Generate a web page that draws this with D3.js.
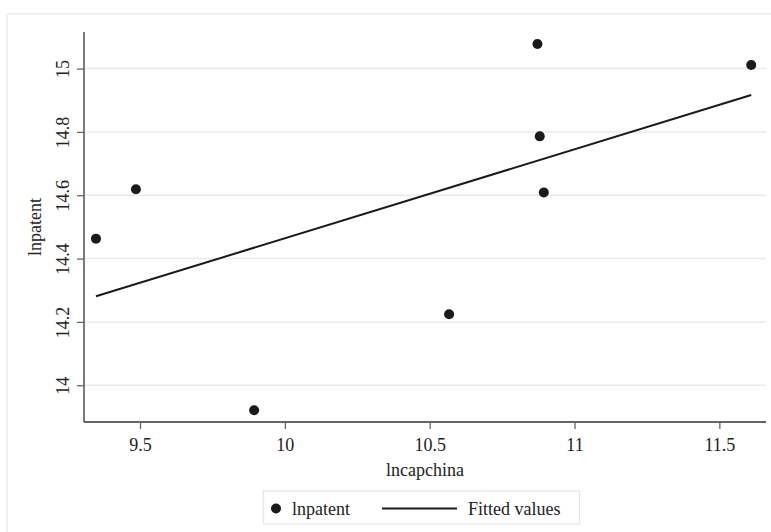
<!DOCTYPE html>
<html>
<head>
<meta charset="utf-8">
<script src="https://cdn.jsdelivr.net/npm/d3@7"></script>
<style>
  html, body { margin: 0; padding: 0; background: #fff; }
  svg { display: block; }
  svg text { font-family: "Liberation Serif", "Times New Roman", serif !important; fill: #222; }
</style>
</head>
<body>
<svg id="chart" width="771" height="532"></svg>
<script>
// Observations: log capital (China) vs log patents
const lncapchina = [9.348, 9.486, 9.894, 10.567, 10.872, 10.880, 10.894, 11.610];
const lnpatent   = [14.463, 14.619, 13.921, 14.224, 15.0775, 14.786, 14.6085, 15.0115];

const xTicks = [9.5, 10, 10.5, 11, 11.5];
const yTicks = [14, 14.2, 14.4, 14.6, 14.8, 15];
const xTickLabels = ["9.5", "10", "10.5", "11", "11.5"];
const yTickLabels = ["14", "14.2", "14.4", "14.6", "14.8", "15"];

const FONT = 18;
const svg = d3.select("#chart");

// outer graph region frame
svg.append("rect")
  .attr("x", 7).attr("y", 14)
  .attr("width", 800).attr("height", 600)
  .attr("fill", "#fff")
  .attr("stroke", "#ececec").attr("stroke-width", 1.5);

const plot = { left: 84, right: 766, top: 32, bottom: 422 };

const x = d3.scaleLinear().domain([9.3067, 11.661]).range([plot.left, plot.right]);
const y = d3.scaleLinear().domain([13.884, 15.1155]).range([plot.bottom, plot.top]);

// horizontal grid
svg.append("g")
  .selectAll("line")
  .data(yTicks)
  .join("line")
  .attr("x1", plot.left).attr("x2", plot.right)
  .attr("y1", d => y(d)).attr("y2", d => y(d))
  .attr("stroke", "#eaeaea").attr("stroke-width", 1.5);

// least-squares fit of lnpatent on lncapchina
const mx = d3.mean(lncapchina), my = d3.mean(lnpatent);
const sxy = d3.sum(lncapchina, (v, i) => (v - mx) * (lnpatent[i] - my));
const sxx = d3.sum(lncapchina, v => (v - mx) * (v - mx));
const slope = sxy / sxx;
const intercept = my - slope * mx;
const fitted = d3.extent(lncapchina).map(v => [v, intercept + slope * v]);

svg.append("path")
  .datum(fitted)
  .attr("fill", "none")
  .attr("stroke", "#1a1a1a")
  .attr("stroke-width", 2)
  .attr("d", d3.line().x(d => x(d[0])).y(d => y(d[1])));

// scatter points
svg.append("g")
  .selectAll("circle")
  .data(lncapchina.map((v, i) => [v, lnpatent[i]]))
  .join("circle")
  .attr("cx", d => x(d[0]))
  .attr("cy", d => y(d[1]))
  .attr("r", 5)
  .attr("fill", "#1a1a1a");

// x axis
const xAxis = d3.axisBottom(x)
  .tickValues(xTicks)
  .tickFormat((d, i) => xTickLabels[i])
  .tickSize(7).tickSizeOuter(0).tickPadding(9);
const gx = svg.append("g").attr("transform", `translate(0,${plot.bottom})`).call(xAxis);
gx.attr("font-size", FONT);
gx.select(".domain").attr("stroke", "#333").attr("stroke-width", 1.3)
  .attr("d", `M${plot.left},0H${plot.right}`);
gx.selectAll(".tick line").attr("stroke", "#666").attr("stroke-width", 1.3);
gx.selectAll(".tick text").attr("font-size", FONT);

// y axis with rotated tick labels
const yAxis = d3.axisLeft(y)
  .tickValues(yTicks)
  .tickFormat((d, i) => yTickLabels[i])
  .tickSize(7).tickSizeOuter(0);
const gy = svg.append("g").attr("transform", `translate(${plot.left},0)`).call(yAxis);
gy.attr("font-size", FONT);
gy.select(".domain").attr("stroke", "#333").attr("stroke-width", 1.3)
  .attr("d", `M0,${plot.top}V${plot.bottom}`);
gy.selectAll(".tick line").attr("stroke", "#666").attr("stroke-width", 1.3);
gy.selectAll(".tick text")
  .attr("font-size", FONT)
  .attr("x", null).attr("dy", null)
  .attr("text-anchor", "middle")
  .attr("transform", "translate(-21,0) rotate(-90)")
  .attr("y", 6);

// axis titles
svg.append("text")
  .attr("x", (plot.left + plot.right) / 2).attr("y", 476)
  .attr("text-anchor", "middle").attr("font-size", FONT)
  .text("lncapchina");

svg.append("text")
  .attr("transform", `translate(41,${(plot.top + plot.bottom) / 2}) rotate(-90)`)
  .attr("text-anchor", "middle").attr("font-size", FONT)
  .text("lnpatent");

// legend
const legend = svg.append("g");
legend.append("rect")
  .attr("x", 263.5).attr("y", 491)
  .attr("width", 316).attr("height", 33)
  .attr("fill", "#fff").attr("stroke", "#e6e6e6").attr("stroke-width", 1.3);
legend.append("circle").attr("cx", 276).attr("cy", 508.5).attr("r", 5).attr("fill", "#1a1a1a");
legend.append("text").attr("x", 292).attr("y", 514.5).attr("font-size", FONT).text("lnpatent");
legend.append("line")
  .attr("x1", 382).attr("x2", 457).attr("y1", 508.5).attr("y2", 508.5)
  .attr("stroke", "#1a1a1a").attr("stroke-width", 2);
legend.append("text").attr("x", 468).attr("y", 514.5).attr("font-size", FONT).text("Fitted values");
</script>
</body>
</html>
